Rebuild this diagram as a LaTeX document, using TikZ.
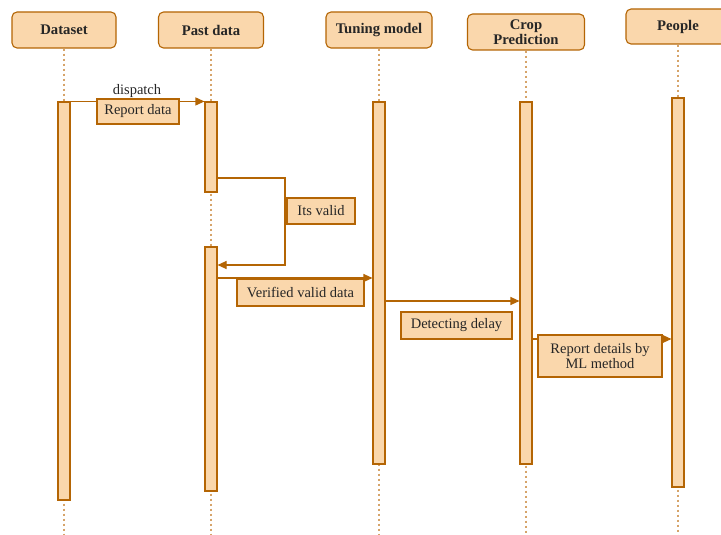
\documentclass[tikz,border=0pt]{standalone}
\usepackage{fontspec}
\setmainfont{Liberation Serif}
\usetikzlibrary{arrows.meta,calc}
\definecolor{fillc}{HTML}{FAD7AC}
\definecolor{strokec}{HTML}{B46504}
\definecolor{lifec}{HTML}{D6A46A}
\definecolor{txt}{HTML}{262626}
\begin{document}
\begin{tikzpicture}[x=1pt,y=-1pt,
  head/.style={draw=strokec, fill=fillc, rounded corners=5pt, line width=1.1pt, text=txt,
    font=\fontsize{14.7}{15.5}\selectfont\bfseries, align=center, inner sep=0pt},
  bar/.style={draw=strokec, fill=fillc, line width=1.1pt, minimum width=12pt, inner sep=0pt},
  lbl/.style={draw=strokec, fill=fillc, line width=1.1pt, text=txt,
    font=\fontsize{14.5}{15.5}\selectfont, align=center, inner sep=0pt},
  msg/.style={draw=strokec, line width=1.1pt, -{Triangle[length=9pt,width=8pt]}},
  life/.style={draw=lifec, line width=1.2pt, dash pattern=on 2.5pt off 2.5pt}]
\clip (0,0) rectangle (721,535);
\fill[white] (0,0) rectangle (721,535);

% headers
\node[head, minimum width=104pt, minimum height=36pt] (hD) at (64,30) {Dataset};
\node[head, minimum width=105pt, minimum height=36pt] (hP) at (211,30) {Past data};
\node[head, minimum width=106pt, minimum height=36pt] (hT) at (379,30) {Tuning model};
\node[head, minimum width=117pt, minimum height=36pt] (hC) at (526,32) {Crop\\Prediction};
\node[head, minimum width=104pt, minimum height=35pt] (hPe) at (678,26.5) {People};

% lifelines
\coordinate (bot) at (0,535);
\draw[life] (hD.south) -- (hD.south |- bot);
\draw[life] (hP.south) -- (hP.south |- bot);
\draw[life] (hT.south) -- (hT.south |- bot);
\draw[life] (hC.south) -- (hC.south |- bot);
\draw[life] (hPe.south) -- (hPe.south |- bot);

% activation bars
\node[bar, minimum height=398pt] (bD) at (64,301) {};
\node[bar, minimum height=90pt] (bP1) at (211,147) {};
\node[bar, minimum height=244pt] (bP2) at (211,369) {};
\node[bar, minimum height=362pt] (bT) at (379,283) {};
\node[bar, minimum height=362pt] (bC) at (526,283) {};
\node[bar, minimum height=389pt] (bPe) at (678,292.5) {};

% messages
\draw[msg] (bD.north east) -- (bP1.north west);
\coordinate (s1) at (285,178);
\coordinate (s2) at (285,265);
\draw[msg] (bP1.east |- s1) -- (s1) -- (s2) -- (bP2.east |- s2);
\coordinate (v) at (0,278);
\draw[msg] (bP2.east |- v) -- (bT.west |- v);
\coordinate (d) at (0,301);
\draw[msg] (bT.east |- d) -- (bC.west |- d);
\coordinate (r) at (0,339);
\draw[msg] (bC.east |- r) -- (bPe.west |- r);

% labels
\node[text=txt, font=\fontsize{14.5}{15.5}\selectfont] (ldisp) at (137,91) {dispatch};
\node[lbl, minimum width=82pt, minimum height=25pt] (lrep) at (138,111.5) {Report data};
\node[lbl, minimum width=68pt, minimum height=26pt] (lval) at (321,211) {Its valid};
\node[lbl, minimum width=127pt, minimum height=27pt] (lver) at (300.5,292.5) {Verified valid data};
\node[lbl, minimum width=111pt, minimum height=27pt] (ldet) at (456.5,325.5) {Detecting delay};
\node[lbl, minimum width=124pt, minimum height=42pt] (lml) at (600,356) {Report details by\\ML method};
\end{tikzpicture}
\end{document}
